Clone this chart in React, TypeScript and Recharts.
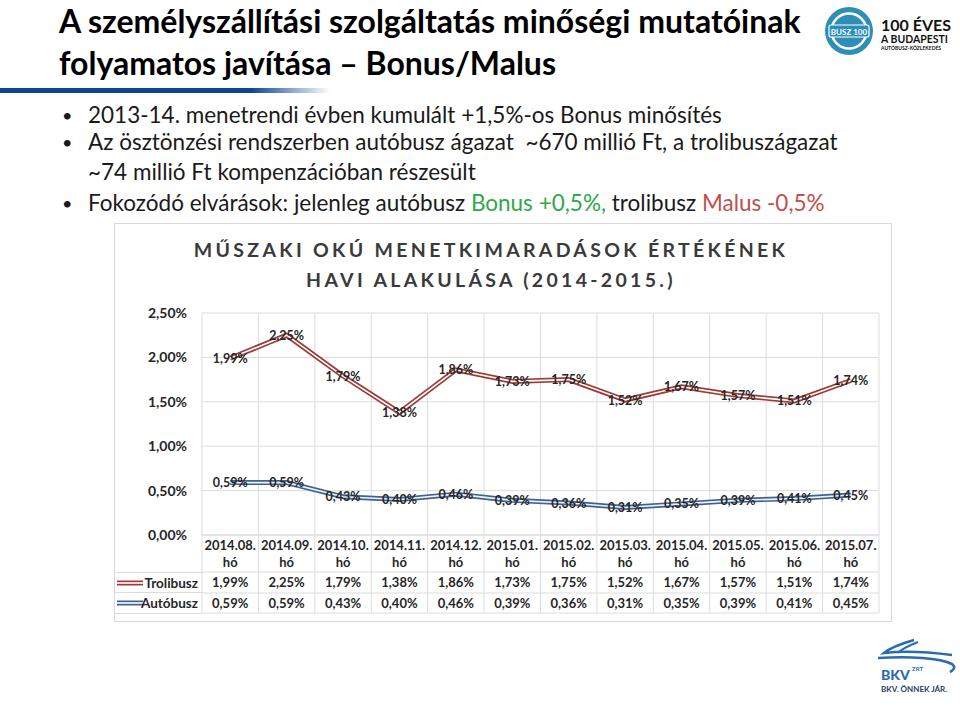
import React from 'react';
import { LineChart, Line, XAxis, YAxis, CartesianGrid } from 'recharts';

// havi adatok
const months = ['2014.08.', '2014.09.', '2014.10.', '2014.11.', '2014.12.', '2015.01.', '2015.02.', '2015.03.', '2015.04.', '2015.05.', '2015.06.', '2015.07.'];
const trolibusz = [1.99, 2.25, 1.79, 1.38, 1.86, 1.73, 1.75, 1.52, 1.67, 1.57, 1.51, 1.74];
const autobusz = [0.59, 0.59, 0.43, 0.40, 0.46, 0.39, 0.36, 0.31, 0.35, 0.39, 0.41, 0.45];
const yTicks = [0, 0.5, 1, 1.5, 2, 2.5];
const seriesNames = ['Trolibusz', 'Autóbusz'];

const data = months.map((m, i) => ({ honap: m, trolibusz: trolibusz[i], autobusz: autobusz[i] }));

const FONT = "Lato, 'Open Sans', sans-serif";
const GRID = '#dcdcdc';
const RED = '#9e3a37';
const BLUE = '#3f6290';
const TEXT = '#262626';

const CHART_W = 776;
const CHART_H = 397;
const Y_W = 87;
const MARGIN = { top: 89, right: 12, bottom: 6, left: 0 };
const BAND = (CHART_W - Y_W - MARGIN.right) / months.length;

const fmt = (v: number) => v.toFixed(2).replace('.', ',') + '%';

// x tengely = adattábla
const TableTick = (props: any) => {
  const { x, y, payload } = props;
  const i = months.indexOf(payload.value);
  const h = BAND / 2;
  const txt = { textAnchor: 'middle' as const, dominantBaseline: 'central' as const, fontSize: 13, fontWeight: 700, fill: TEXT, fontFamily: FONT };
  return (
    <g>
      <line x1={x - h} x2={x - h} y1={y} y2={y + 78} stroke={GRID} />
      {i === months.length - 1 && <line x1={x + h} x2={x + h} y1={y} y2={y + 78} stroke={GRID} />}
      <line x1={x - h} x2={x + h} y1={y + 37} y2={y + 37} stroke={GRID} />
      <line x1={x - h} x2={x + h} y1={y + 58} y2={y + 58} stroke={GRID} />
      <line x1={x - h} x2={x + h} y1={y + 78} y2={y + 78} stroke={GRID} />
      <text x={x} y={y + 10} {...txt}>{payload.value}</text>
      <text x={x} y={y + 27} {...txt}>hó</text>
      <text x={x} y={y + 47} {...txt}>{fmt(trolibusz[i])}</text>
      <text x={x} y={y + 68} {...txt}>{fmt(autobusz[i])}</text>
    </g>
  );
};

const renderLabel = (p: any) => (
  <text x={p.x} y={p.y} textAnchor="middle" dominantBaseline="central" fontSize={12.5} fontWeight={700} fill={TEXT} fontFamily={FONT}>
    {fmt(p.value)}
  </text>
);

const LegendKey = ({ color }: { color: string }) => (
  <svg width={26} height={6} style={{ position: 'absolute', left: 2, top: 7 }}>
    <line x1={0} x2={26} y1={3} y2={3} stroke={color} strokeWidth={5} />
    <line x1={0} x2={26} y1={3} y2={3} stroke="#fff" strokeWidth={1.6} />
  </svg>
);

const bullets = [
  { top: 103, text: <>2013-14. menetrendi évben kumulált +1,5%-os Bonus minősítés</>, dot: true },
  { top: 130, text: <>Az ösztönzési rendszerben autóbusz ágazat&nbsp; ~670 millió Ft, a trolibuszágazat</>, dot: true },
  { top: 160, text: <>~74 millió Ft kompenzációban részesült</>, dot: false },
  {
    top: 191,
    text: (
      <>
        Fokozódó elvárások: jelenleg autóbusz <span style={{ color: '#2ea84a' }}>Bonus +0,5%,</span> trolibusz{' '}
        <span style={{ color: '#c0504d' }}>Malus -0,5%</span>
      </>
    ),
    dot: true,
  },
];

export default function App() {
  return (
    <div style={{ position: 'absolute', left: 0, top: 0, width: 960, height: 719, background: '#fff', fontFamily: FONT, overflow: 'hidden', color: '#000' }}>
      {/* cím */}
      <div style={{ position: 'absolute', left: 59, top: 0, fontSize: 32, fontWeight: 700, lineHeight: '42px', whiteSpace: 'nowrap' }}>
        A személyszállítási szolgáltatás minőségi mutatóinak
        <br />
        folyamatos javítása – Bonus/Malus
      </div>
      <div style={{ position: 'absolute', left: 0, top: 88, width: 330, height: 5, background: 'linear-gradient(to right, #0b4693 0%, #0b4693 76%, rgba(11,70,147,0) 100%)' }} />

      {bullets.map((b, i) => (
        <div key={i} style={{ position: 'absolute', left: 0, top: b.top, height: 24, lineHeight: '24px', fontSize: 22.5, whiteSpace: 'nowrap', color: '#1a1a1a' }}>
          {b.dot && <span style={{ position: 'absolute', left: 62, fontSize: 18 }}>•</span>}
          <span style={{ position: 'absolute', left: 88 }}>{b.text}</span>
        </div>
      ))}

      {/* diagram doboz */}
      <div style={{ position: 'absolute', left: 115, top: 224, width: CHART_W, height: CHART_H, outline: '1px solid #d9d9d9' }}>
        <div style={{ position: 'absolute', left: 0, width: 752, top: 11, textAlign: 'center', fontSize: 19.5, fontWeight: 700, letterSpacing: 3.3, lineHeight: '30px', color: '#3a3a3a', whiteSpace: 'nowrap' }}>
          MŰSZAKI OKÚ MENETKIMARADÁSOK ÉRTÉKÉNEK
          <br />
          HAVI ALAKULÁSA (2014-2015.)
        </div>

        <LineChart width={CHART_W} height={CHART_H} data={data} margin={MARGIN} style={{ position: 'absolute', left: 0, top: 0 }}>
          <CartesianGrid
            stroke={GRID}
            strokeDasharray=""
            horizontalValues={yTicks}
            verticalCoordinatesGenerator={({ offset }: any) => months.map((_, i) => offset.left + (i * offset.width) / months.length).concat(offset.left + offset.width)}
          />
          <YAxis
            width={Y_W}
            domain={[0, 2.5]}
            ticks={yTicks}
            tickFormatter={fmt}
            axisLine={false}
            tickLine={false}
            tickSize={0}
            tickMargin={15}
            tick={{ fontSize: 14, fontWeight: 700, fill: TEXT, fontFamily: FONT }}
          />
          <XAxis
            dataKey="honap"
            interval={0}
            height={80}
            padding={{ left: BAND / 2, right: BAND / 2 }}
            axisLine={{ stroke: GRID }}
            tickLine={false}
            tickSize={0}
            tickMargin={0}
            tick={<TableTick />}
          />
          <Line type="linear" dataKey="trolibusz" stroke={RED} strokeWidth={5} dot={false} activeDot={false} isAnimationActive={false} />
          <Line type="linear" dataKey="trolibusz" stroke="#fff" strokeWidth={1.6} dot={false} activeDot={false} isAnimationActive={false} label={renderLabel} />
          <Line type="linear" dataKey="autobusz" stroke={BLUE} strokeWidth={5} dot={false} activeDot={false} isAnimationActive={false} />
          <Line type="linear" dataKey="autobusz" stroke="#eef3fa" strokeWidth={1.6} dot={false} activeDot={false} isAnimationActive={false} label={renderLabel} />
        </LineChart>

        {/* sorcímkék */}
        {seriesNames.map((name, i) => (
          <div key={name} style={{ position: 'absolute', left: 0, top: 348 + i * 21, width: Y_W, height: 21, borderBottom: `1px solid ${GRID}`, borderTop: i === 0 ? `1px solid ${GRID}` : undefined, boxSizing: 'border-box' }}>
            <LegendKey color={i === 0 ? RED : BLUE} />
            <span style={{ position: 'absolute', right: 4, top: 0, lineHeight: '20px', fontSize: 13.5, fontWeight: 700, color: TEXT }}>{name}</span>
          </div>
        ))}
      </div>

      {/* 100 éves logó */}
      <svg width={140} height={64} style={{ position: 'absolute', left: 820, top: 4 }}>
        <circle cx={29} cy={27} r={24} fill="#2d8fb6" />
        <circle cx={29} cy={27} r={17.5} fill="none" stroke="#fff" strokeWidth={2.5} />
        <rect x={9} y={21} width={40} height={12} rx={2} fill="#2d8fb6" stroke="#fff" strokeWidth={1.2} />
        <text x={29} y={30.5} textAnchor="middle" fontSize={8} fontWeight={700} fill="#fff" fontFamily={FONT}>BUSZ 100</text>
        <text x={61} y={27} fontSize={16} fontWeight={700} fill="#111" fontFamily={FONT}>100 ÉVES</text>
        <text x={61} y={39} fontSize={10.5} fontWeight={700} fill="#111" fontFamily={FONT}>A BUDAPESTI</text>
        <text x={61} y={46} fontSize={5} fontWeight={700} fill="#111" fontFamily={FONT}>AUTÓBUSZ-KÖZLEKEDÉS</text>
      </svg>

      {/* BKV logó */}
      <svg width={90} height={66} style={{ position: 'absolute', left: 870, top: 632 }}>
        <path d="M44 8 C 30 12, 20 16, 14 21 C 30 19, 52 19, 82 23" fill="none" stroke="#2a6bb0" strokeWidth={2.6} />
        <path d="M48 10 C 38 14, 31 17, 28 21" fill="none" stroke="#2a6bb0" strokeWidth={2} />
        <path d="M8 26 C 40 24, 70 26, 82 32 C 86 35, 84 38, 80 40" fill="none" stroke="#2a6bb0" strokeWidth={2.6} />
        <text x={11} y={48} fontSize={14} fontWeight={900} fill="#2a6bb0" fontFamily={FONT}>BKV</text>
        <text x={42} y={39} fontSize={6} fontWeight={700} fill="#2a6bb0" fontFamily={FONT}>ZRT</text>
        <text x={11} y={60} fontSize={8} fontWeight={700} fill="#1f3b63" fontFamily={FONT}>BKV. ÖNNEK JÁR.</text>
      </svg>
    </div>
  );
}
